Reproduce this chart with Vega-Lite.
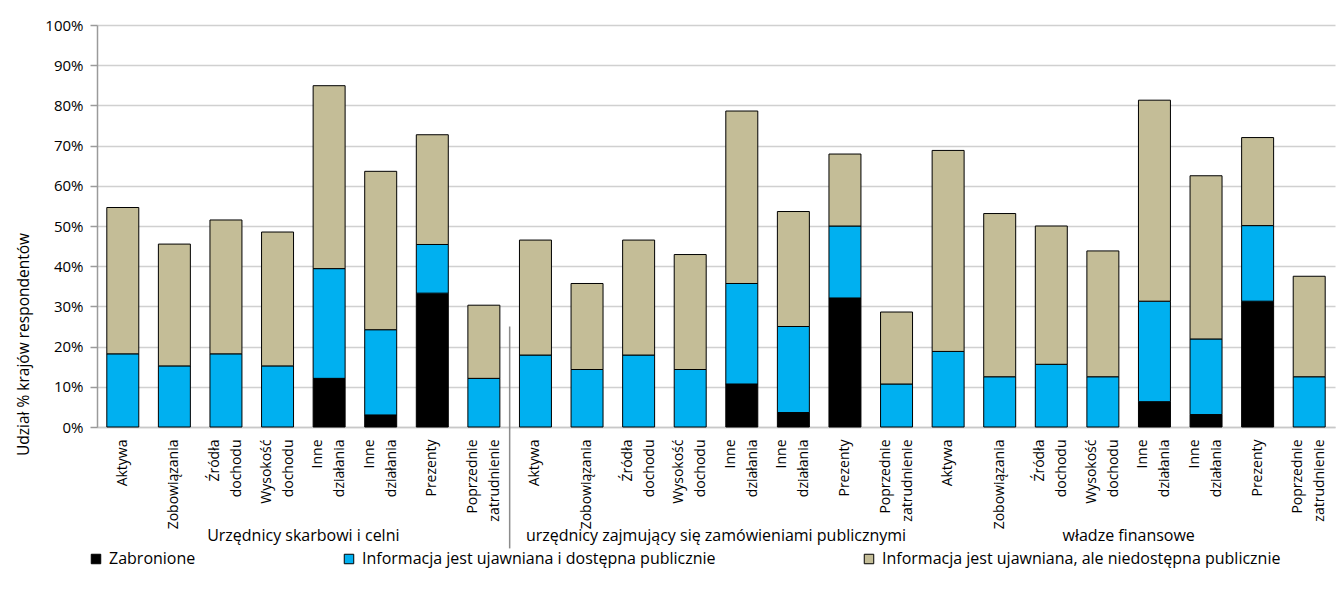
{
  "$schema": "https://vega.github.io/schema/vega-lite/v6.json",
  "width": 1238,
  "height": 402,
  "autosize": {"type": "none"},
  "padding": {"left": 97, "top": 25, "right": 7, "bottom": 176},
  "config": {
    "font": "Open Sans",
    "view": {"stroke": null},
    "axis": {"labelFont": "Open Sans", "labelFontSize": 14, "labelColor": "#000000", "titleFont": "Open Sans", "titleFontSize": 15.5, "titleFontWeight": "normal", "titleColor": "#000000"}
  },
  "datasets": {
    "udzialy": [
      {"kat": "1.1:Aktywa", "status": "Informacja jest ujawniana i dostępna publicznie", "ord": 2, "udzial": 18.2},
      {"kat": "1.1:Aktywa", "status": "Informacja jest ujawniana, ale niedostępna publicznie", "ord": 3, "udzial": 36.4},
      {"kat": "1.2:Zobowiązania", "status": "Informacja jest ujawniana i dostępna publicznie", "ord": 2, "udzial": 15.2},
      {"kat": "1.2:Zobowiązania", "status": "Informacja jest ujawniana, ale niedostępna publicznie", "ord": 3, "udzial": 30.3},
      {"kat": "1.3:Źródła dochodu", "status": "Informacja jest ujawniana i dostępna publicznie", "ord": 2, "udzial": 18.2},
      {"kat": "1.3:Źródła dochodu", "status": "Informacja jest ujawniana, ale niedostępna publicznie", "ord": 3, "udzial": 33.3},
      {"kat": "1.4:Wysokość dochodu", "status": "Informacja jest ujawniana i dostępna publicznie", "ord": 2, "udzial": 15.2},
      {"kat": "1.4:Wysokość dochodu", "status": "Informacja jest ujawniana, ale niedostępna publicznie", "ord": 3, "udzial": 33.3},
      {"kat": "1.5:Inne działania", "status": "Zabronione", "ord": 1, "udzial": 12.1},
      {"kat": "1.5:Inne działania", "status": "Informacja jest ujawniana i dostępna publicznie", "ord": 2, "udzial": 27.3},
      {"kat": "1.5:Inne działania", "status": "Informacja jest ujawniana, ale niedostępna publicznie", "ord": 3, "udzial": 45.5},
      {"kat": "1.6:Inne działania", "status": "Zabronione", "ord": 1, "udzial": 3.0},
      {"kat": "1.6:Inne działania", "status": "Informacja jest ujawniana i dostępna publicznie", "ord": 2, "udzial": 21.2},
      {"kat": "1.6:Inne działania", "status": "Informacja jest ujawniana, ale niedostępna publicznie", "ord": 3, "udzial": 39.4},
      {"kat": "1.7:Prezenty", "status": "Zabronione", "ord": 1, "udzial": 33.3},
      {"kat": "1.7:Prezenty", "status": "Informacja jest ujawniana i dostępna publicznie", "ord": 2, "udzial": 12.1},
      {"kat": "1.7:Prezenty", "status": "Informacja jest ujawniana, ale niedostępna publicznie", "ord": 3, "udzial": 27.3},
      {"kat": "1.8:Poprzednie zatrudnienie", "status": "Informacja jest ujawniana i dostępna publicznie", "ord": 2, "udzial": 12.1},
      {"kat": "1.8:Poprzednie zatrudnienie", "status": "Informacja jest ujawniana, ale niedostępna publicznie", "ord": 3, "udzial": 18.2},
      {"kat": "2.1:Aktywa", "status": "Informacja jest ujawniana i dostępna publicznie", "ord": 2, "udzial": 17.9},
      {"kat": "2.1:Aktywa", "status": "Informacja jest ujawniana, ale niedostępna publicznie", "ord": 3, "udzial": 28.6},
      {"kat": "2.2:Zobowiązania", "status": "Informacja jest ujawniana i dostępna publicznie", "ord": 2, "udzial": 14.3},
      {"kat": "2.2:Zobowiązania", "status": "Informacja jest ujawniana, ale niedostępna publicznie", "ord": 3, "udzial": 21.4},
      {"kat": "2.3:Źródła dochodu", "status": "Informacja jest ujawniana i dostępna publicznie", "ord": 2, "udzial": 17.9},
      {"kat": "2.3:Źródła dochodu", "status": "Informacja jest ujawniana, ale niedostępna publicznie", "ord": 3, "udzial": 28.6},
      {"kat": "2.4:Wysokość dochodu", "status": "Informacja jest ujawniana i dostępna publicznie", "ord": 2, "udzial": 14.3},
      {"kat": "2.4:Wysokość dochodu", "status": "Informacja jest ujawniana, ale niedostępna publicznie", "ord": 3, "udzial": 28.6},
      {"kat": "2.5:Inne działania", "status": "Zabronione", "ord": 1, "udzial": 10.7},
      {"kat": "2.5:Inne działania", "status": "Informacja jest ujawniana i dostępna publicznie", "ord": 2, "udzial": 25.0},
      {"kat": "2.5:Inne działania", "status": "Informacja jest ujawniana, ale niedostępna publicznie", "ord": 3, "udzial": 42.9},
      {"kat": "2.6:Inne działania", "status": "Zabronione", "ord": 1, "udzial": 3.6},
      {"kat": "2.6:Inne działania", "status": "Informacja jest ujawniana i dostępna publicznie", "ord": 2, "udzial": 21.4},
      {"kat": "2.6:Inne działania", "status": "Informacja jest ujawniana, ale niedostępna publicznie", "ord": 3, "udzial": 28.6},
      {"kat": "2.7:Prezenty", "status": "Zabronione", "ord": 1, "udzial": 32.1},
      {"kat": "2.7:Prezenty", "status": "Informacja jest ujawniana i dostępna publicznie", "ord": 2, "udzial": 17.9},
      {"kat": "2.7:Prezenty", "status": "Informacja jest ujawniana, ale niedostępna publicznie", "ord": 3, "udzial": 17.9},
      {"kat": "2.8:Poprzednie zatrudnienie", "status": "Informacja jest ujawniana i dostępna publicznie", "ord": 2, "udzial": 10.7},
      {"kat": "2.8:Poprzednie zatrudnienie", "status": "Informacja jest ujawniana, ale niedostępna publicznie", "ord": 3, "udzial": 17.9},
      {"kat": "3.1:Aktywa", "status": "Informacja jest ujawniana i dostępna publicznie", "ord": 2, "udzial": 18.8},
      {"kat": "3.1:Aktywa", "status": "Informacja jest ujawniana, ale niedostępna publicznie", "ord": 3, "udzial": 50.0},
      {"kat": "3.2:Zobowiązania", "status": "Informacja jest ujawniana i dostępna publicznie", "ord": 2, "udzial": 12.5},
      {"kat": "3.2:Zobowiązania", "status": "Informacja jest ujawniana, ale niedostępna publicznie", "ord": 3, "udzial": 40.6},
      {"kat": "3.3:Źródła dochodu", "status": "Informacja jest ujawniana i dostępna publicznie", "ord": 2, "udzial": 15.6},
      {"kat": "3.3:Źródła dochodu", "status": "Informacja jest ujawniana, ale niedostępna publicznie", "ord": 3, "udzial": 34.4},
      {"kat": "3.4:Wysokość dochodu", "status": "Informacja jest ujawniana i dostępna publicznie", "ord": 2, "udzial": 12.5},
      {"kat": "3.4:Wysokość dochodu", "status": "Informacja jest ujawniana, ale niedostępna publicznie", "ord": 3, "udzial": 31.3},
      {"kat": "3.5:Inne działania", "status": "Zabronione", "ord": 1, "udzial": 6.3},
      {"kat": "3.5:Inne działania", "status": "Informacja jest ujawniana i dostępna publicznie", "ord": 2, "udzial": 25.0},
      {"kat": "3.5:Inne działania", "status": "Informacja jest ujawniana, ale niedostępna publicznie", "ord": 3, "udzial": 50.0},
      {"kat": "3.6:Inne działania", "status": "Zabronione", "ord": 1, "udzial": 3.1},
      {"kat": "3.6:Inne działania", "status": "Informacja jest ujawniana i dostępna publicznie", "ord": 2, "udzial": 18.8},
      {"kat": "3.6:Inne działania", "status": "Informacja jest ujawniana, ale niedostępna publicznie", "ord": 3, "udzial": 40.6},
      {"kat": "3.7:Prezenty", "status": "Zabronione", "ord": 1, "udzial": 31.3},
      {"kat": "3.7:Prezenty", "status": "Informacja jest ujawniana i dostępna publicznie", "ord": 2, "udzial": 18.8},
      {"kat": "3.7:Prezenty", "status": "Informacja jest ujawniana, ale niedostępna publicznie", "ord": 3, "udzial": 21.9},
      {"kat": "3.8:Poprzednie zatrudnienie", "status": "Informacja jest ujawniana i dostępna publicznie", "ord": 2, "udzial": 12.5},
      {"kat": "3.8:Poprzednie zatrudnienie", "status": "Informacja jest ujawniana, ale niedostępna publicznie", "ord": 3, "udzial": 25.0}
    ],
    "grupy": [
      {"kat": "1.4:Wysokość dochodu", "grupa": "Urzędnicy skarbowi i celni"},
      {"kat": "2.4:Wysokość dochodu", "grupa": "urzędnicy zajmujący się zamówieniami publicznymi"},
      {"kat": "3.4:Wysokość dochodu", "grupa": "władze finansowe"}
    ]
  },
  "layer": [
    {
      "data": {"name": "udzialy"},
      "mark": {"type": "bar", "width": {"band": 0.62}, "stroke": "#000000", "strokeWidth": 1},
      "encoding": {
        "x": {
          "field": "kat", "type": "nominal", "sort": "ascending",
          "scale": {"paddingInner": 0, "paddingOuter": 0},
          "axis": {
            "title": null, "labelAngle": -90,
            "labelExpr": "split(slice(datum.value, 4), ' ')",
            "labelLineHeight": 22,
            "labelOffset": {"condition": {"test": "indexof(datum.value, ' ') >= 0", "value": -11}, "value": 0},
            "ticks": false, "labelPadding": 12,
            "domainColor": "#C8C8C8", "domainWidth": 1.5,
            "labelOverlap": false, "labelLimit": 200, "labelBound": false
          }
        },
        "y": {
          "field": "udzial", "type": "quantitative", "stack": "zero",
          "scale": {"domain": [0, 100], "nice": false},
          "axis": {
            "title": "Udział % krajów respondentów",
            "values": [0, 10, 20, 30, 40, 50, 60, 70, 80, 90, 100],
            "labelExpr": "datum.value + '%'",
            "labelFontSize": 15,
            "grid": true, "gridColor": "#D0D0D0", "gridWidth": 1.5,
            "domainColor": "#9A9A9A", "domainWidth": 1.5,
            "tickColor": "#9A9A9A", "tickSize": 7, "tickWidth": 1.5,
            "labelPadding": 7,
            "titleX": -74, "titleY": 319, "titleAngle": -90,
            "titleAlign": "center", "titleBaseline": "middle"
          }
        },
        "color": {
          "field": "status", "type": "nominal",
          "scale": {
            "domain": ["Zabronione", "Informacja jest ujawniana i dostępna publicznie", "Informacja jest ujawniana, ale niedostępna publicznie"],
            "range": ["#000000", "#00B0F0", "#C4BD97"]
          },
          "legend": {
            "title": null, "orient": "none", "legendX": -9, "legendY": 526,
            "direction": "horizontal", "columns": 3, "columnPadding": 145,
            "symbolType": "square", "symbolSize": 90,
            "symbolStrokeColor": "#000000", "symbolStrokeWidth": 1,
            "labelFont": "Open Sans", "labelFontSize": 16, "labelColor": "#000000",
            "labelLimit": 600, "labelOffset": 5
          }
        },
        "order": {"field": "ord", "type": "quantitative"}
      }
    },
    {
      "data": {"values": [{}]},
      "mark": {"type": "rule", "color": "#8C8C8C", "strokeWidth": 1.5},
      "encoding": {
        "x": {"datum": "1.8:Poprzednie zatrudnienie", "type": "nominal", "bandPosition": 1},
        "y": {"datum": 25, "type": "quantitative"},
        "y2": {"datum": -30.2}
      }
    },
    {
      "data": {"name": "grupy"},
      "mark": {"type": "text", "fontSize": 16, "font": "Open Sans", "color": "#000000", "align": "center", "baseline": "middle"},
      "encoding": {
        "x": {"field": "kat", "type": "nominal", "sort": "ascending", "bandPosition": 1},
        "y": {"datum": -27, "type": "quantitative"},
        "text": {"field": "grupa"}
      }
    }
  ]
}
